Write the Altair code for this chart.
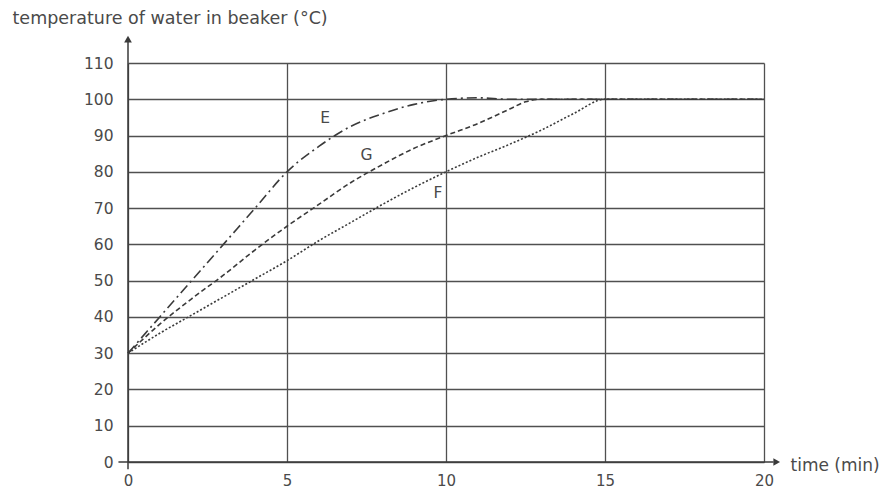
import altair as alt
import pandas as pd

# Curve E (dash-dot)
time_E = [0, 1, 2, 3, 4, 5, 6, 7, 8, 9, 10, 11, 12, 14, 16, 18, 20]
temp_E = [30, 40, 50, 60, 70, 80, 87, 92.5, 96, 98.6, 100, 100.4, 100, 100, 100, 100, 100]

# Curve G (dashed)
time_G = [0, 1, 2, 3, 4, 5, 6, 7, 8, 9, 10, 11, 12, 12.5, 13, 15, 17, 20]
temp_G = [30, 38, 45, 51.5, 58.5, 65, 71, 77, 82, 86.5, 90, 93.3, 97.3, 99.3, 100, 100, 100, 100]

# Curve F (dotted)
time_F = [0, 1, 2, 3, 4, 5, 6, 7, 8, 9, 10, 11, 12, 13, 14, 15, 17, 20]
temp_F = [30, 35.5, 40.5, 45.5, 50.5, 55.5, 61, 66, 71, 75.7, 80, 84, 87.6, 91.5, 96, 100, 100, 100]

series_names = ["E", "G", "F"]
series_dashes = [[10, 4, 2, 4], [5, 3], [2, 2]]

label_text = ["E", "G", "F"]
label_x = [6.2, 7.5, 9.75]
label_y = [94.8, 84.6, 74.2]

x_ticks = [0, 5, 10, 15, 20]
y_ticks = [0, 10, 20, 30, 40, 50, 60, 70, 80, 90, 100, 110]

FONT = "DejaVu Sans"
TXT = "#4a4a4a"
INK = "#3a3a3a"

rows = []
for n, xs, ys in [("E", time_E, temp_E), ("G", time_G, temp_G), ("F", time_F, temp_F)]:
    for t, v in zip(xs, ys):
        rows.append({"series": n, "time": t, "temp": v})
curves = pd.DataFrame(rows)

labels = pd.DataFrame({"text": label_text, "time": label_x, "temp": label_y})

axis_lines = pd.DataFrame({
    "time": [0, -0.3], "time2": [0, 20.3], "temp": [-2, 0], "temp2": [116, 0]
})
arrows = pd.DataFrame({
    "time": [0, 20.4], "temp": [116.6, 0], "shape": ["triangle-up", "triangle-right"]
})

xscale = alt.Scale(domain=[0, 20], nice=False, zero=False)
yscale = alt.Scale(domain=[0, 110], nice=False, zero=False)

xaxis = alt.Axis(
    values=x_ticks, grid=True, domain=False, ticks=False, labelOverlap=False,
    labelFlush=False,
    labelPadding=11, labelFontSize=15, labelFont=FONT, labelColor=TXT,
    gridColor="#505050", gridWidth=1.3,
    title="time (min)", titleFont=FONT, titleFontSize=17, titleFontWeight="normal",
    titleColor=TXT, titleX=662, titleY=3, titleAlign="left", titleBaseline="middle",
    titleAngle=0,
)
yaxis = alt.Axis(
    values=y_ticks, grid=True, domain=False, ticks=False, labelOverlap=False,
    labelFlush=False,
    labelPadding=15, labelFontSize=15.5, labelFont=FONT, labelColor=TXT,
    gridColor="#505050", gridWidth=1.3,
    title="temperature of water in beaker (°C)", titleFont=FONT, titleFontSize=17.5,
    titleFontWeight="normal", titleColor=TXT, titleX=-116, titleY=-45,
    titleAlign="left", titleBaseline="middle", titleAngle=0,
)

X = alt.X("time:Q", scale=xscale, axis=xaxis)
Y = alt.Y("temp:Q", scale=yscale, axis=yaxis)

lines = alt.Chart(curves).mark_line(color=INK, strokeWidth=1.6, interpolate="monotone").encode(
    x=X, y=Y,
    strokeDash=alt.StrokeDash("series:N", scale=alt.Scale(domain=series_names, range=series_dashes), legend=None),
)

text = alt.Chart(labels).mark_text(font=FONT, fontSize=15.5, color=TXT).encode(
    x=X, y=Y, text="text:N",
)

ax = alt.Chart(axis_lines).mark_rule(color=INK, strokeWidth=1.5).encode(
    x=X, x2="time2:Q", y=Y, y2="temp2:Q",
)

arr = alt.Chart(arrows).mark_point(filled=True, color=INK, size=60, opacity=1).encode(
    x=X, y=Y,
    shape=alt.Shape("shape:N", scale=None, legend=None),
)

chart = alt.layer(lines, text, ax, arr).properties(
    width=636, height=399,
    autosize=alt.AutoSizeParams(type="none"),
    padding={"left": 120, "top": 55, "right": 118, "bottom": 29},
    background="white",
).configure_view(stroke=None)

chart.save("out.html", embed_options={"renderer": "svg", "actions": False})
